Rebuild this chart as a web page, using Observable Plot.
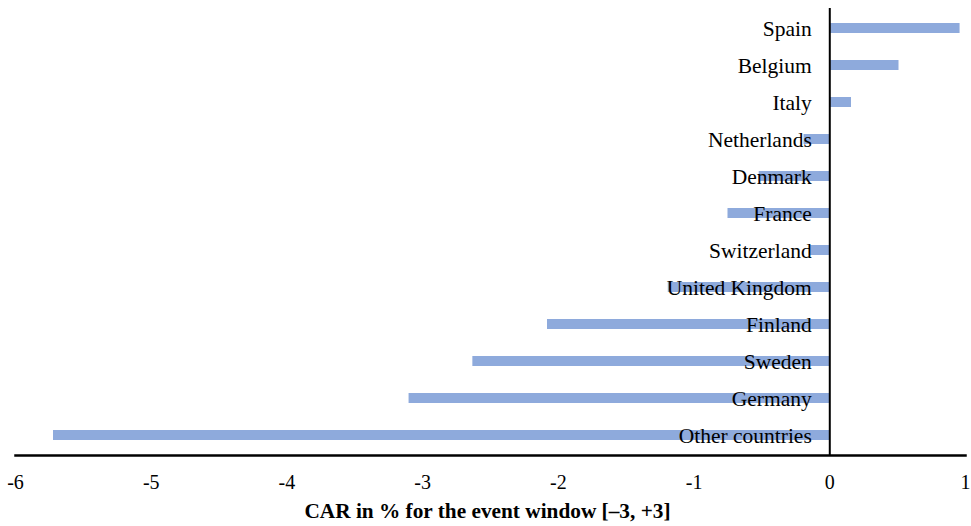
<!DOCTYPE html>
<html>
<head>
<meta charset="utf-8">
<script src="https://cdn.jsdelivr.net/npm/d3@7"></script>
<script src="https://cdn.jsdelivr.net/npm/@observablehq/plot@0.6"></script>
<style>
  body { margin: 0; background: #fff; font-family: "Liberation Serif", "Times New Roman", serif; }
  #caption { width: 971px; text-align: center; font-weight: bold; font-size: 21.3px; color: #000; margin-top: 3px; padding-left: 2px; }
</style>
</head>
<body>
<div id="chart"></div>
<div id="caption">CAR in % for the event window [–3, +3]</div>
<script>
const countries = ["Spain", "Belgium", "Italy", "Netherlands", "Denmark", "France", "Switzerland", "United Kingdom", "Finland", "Sweden", "Germany", "Other countries"];
const car = [0.96, 0.51, 0.16, -0.19, -0.52, -0.75, -0.15, -1.19, -2.08, -2.63, -3.10, -5.72];
const xTicks = [-6, -5, -4, -3, -2, -1, 0, 1];

const data = countries.map((c, i) => ({country: c, value: car[i]}));

const chart = Plot.plot({
  width: 971,
  height: 496,
  marginLeft: 15,
  marginRight: 6,
  marginTop: 8,
  marginBottom: 41,
  style: {fontFamily: "Liberation Serif, Times New Roman, serif", fontSize: "20px", color: "#000", background: "#fff"},
  x: {domain: [-6, 1], ticks: xTicks, tickFormat: d => String(d), label: null},
  y: {domain: countries, paddingInner: 0.72, paddingOuter: 0.33, axis: null},
  marks: [
    Plot.barX(data, {x: "value", y: "country", fill: "#8eaadc"}),
    Plot.ruleX([0], {stroke: "#000", strokeWidth: 2}),
    Plot.text(data, {x: () => 0, y: "country", text: "country", textAnchor: "end", dx: -18, dy: 1, fill: "#000", fontSize: 21.5}),
    Plot.axisX({ticks: xTicks, tickSize: 0, tickPadding: 19, fontSize: 20, label: null, tickFormat: d => String(d)}),
    Plot.frame({anchor: "bottom", stroke: "#000", strokeWidth: 2.5})
  ]
});
document.getElementById("chart").appendChild(chart);
</script>
</body>
</html>
